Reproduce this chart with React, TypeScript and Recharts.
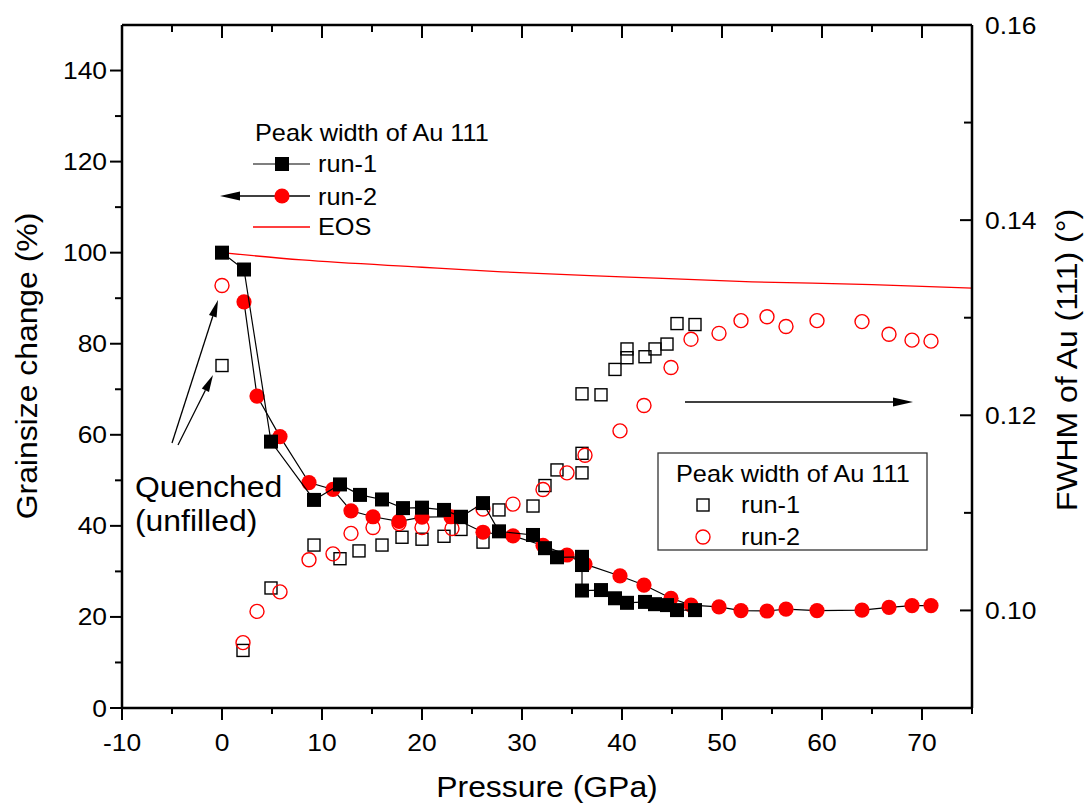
import { ComposedChart, Line, Scatter, XAxis, YAxis } from "recharts";

// pressure (GPa) and grain size change (%) — filled markers, left axis
const run1P = [0, 2.2, 4.9, 9.2, 11.8, 13.8, 16.0, 18.1, 20.0, 22.2, 23.9, 26.1, 27.7, 31.1, 32.3, 33.5, 36.0, 36.0, 36.0, 37.9, 39.3, 40.5, 42.3, 43.3, 44.5, 45.5, 47.3];
const run1Grain = [100, 96.3, 58.5, 45.7, 49.1, 46.8, 45.8, 43.9, 44.0, 43.5, 42.0, 45.0, 38.8, 38.0, 35.1, 33.1, 33.2, 31.4, 25.8, 25.9, 24.1, 23.1, 23.3, 22.8, 22.6, 21.5, 21.5];

const run2P = [2.2, 3.5, 5.8, 8.7, 11.1, 12.9, 15.1, 17.7, 20.0, 22.9, 26.1, 29.1, 32.1, 34.5, 36.3, 39.8, 42.2, 44.9, 46.9, 49.7, 51.9, 54.5, 56.4, 59.5, 64.0, 66.7, 69.0, 70.9];
const run2Grain = [89.2, 68.5, 59.6, 49.5, 48.0, 43.3, 42.0, 41.0, 41.9, 42.0, 38.6, 37.8, 35.7, 33.6, 31.6, 29.0, 27.0, 24.1, 22.6, 22.2, 21.4, 21.3, 21.7, 21.4, 21.5, 22.1, 22.5, 22.5];

// FWHM of Au (111) — open markers, right axis (first point = quenched)
const run1OpenP = [0, 2.1, 4.9, 9.2, 11.8, 13.7, 16.0, 18.0, 20.0, 22.2, 23.9, 26.1, 27.7, 31.1, 32.3, 33.5, 36.0, 36.0, 36.0, 37.9, 39.3, 40.5, 40.5, 42.3, 43.3, 44.5, 45.5, 47.3];
const run1Fwhm = [0.1251, 0.0959, 0.1023, 0.1067, 0.1053, 0.1061, 0.1067, 0.1075, 0.1073, 0.1076, 0.1083, 0.107, 0.1103, 0.1107, 0.1128, 0.1144, 0.1141, 0.1161, 0.1222, 0.1221, 0.1247, 0.1259, 0.1268, 0.126, 0.1268, 0.1273, 0.1294, 0.1293];

const run2OpenP = [0, 2.1, 3.5, 5.8, 8.7, 11.1, 12.9, 15.1, 17.7, 20.0, 23.0, 26.1, 29.1, 32.1, 34.5, 36.3, 39.8, 42.2, 44.9, 46.9, 49.7, 51.9, 54.5, 56.4, 59.5, 64.0, 66.7, 69.0, 70.9];
const run2Fwhm = [0.1333, 0.0967, 0.0999, 0.1019, 0.1052, 0.1058, 0.1079, 0.1085, 0.1089, 0.1085, 0.1084, 0.1104, 0.1109, 0.1124, 0.1141, 0.1159, 0.1184, 0.121, 0.1249, 0.1278, 0.1284, 0.1297, 0.1301, 0.1291, 0.1297, 0.1296, 0.1283, 0.1277, 0.1276];

const eosP = [0, 8, 20, 28, 40, 53, 65, 75];
const eosGrain = [100, 98.4, 96.8, 95.8, 94.7, 93.6, 93.0, 92.2];

const xTicks = [-10, -5, 0, 5, 10, 15, 20, 25, 30, 35, 40, 45, 50, 55, 60, 65, 70, 75];
const leftTicks = [0, 10, 20, 30, 40, 50, 60, 70, 80, 90, 100, 110, 120, 130, 140];
const rightTicks = [0.09, 0.1, 0.11, 0.12, 0.13, 0.14, 0.15, 0.16];

const run1Data = run1P.map((p, i) => ({ p, g: run1Grain[i] }));
const run2Data = run2P.map((p, i) => ({ p, g: run2Grain[i] }));
const run1OpenData = run1OpenP.map((p, i) => ({ p, w: run1Fwhm[i] }));
const run2OpenData = run2OpenP.map((p, i) => ({ p, w: run2Fwhm[i] }));
const eosData = eosP.map((p, i) => ({ p, g: eosGrain[i] }));

const FONT = '"Liberation Sans", Arial, Helvetica, sans-serif';
const RED = "#ff0000";

function SText({ x, y, size, anchor = "start", rotate = 0, children }: any) {
  const t = `translate(${x},${y})${rotate ? ` rotate(${rotate})` : ""} scale(1.1,1)`;
  return (
    <text transform={t} fontSize={size} fontFamily={FONT} textAnchor={anchor} fill="#000">
      {children}
    </text>
  );
}

function Arrow({ x1, y1, x2, y2, head = 18, half = 4.5 }: any) {
  const dx = x2 - x1;
  const dy = y2 - y1;
  const len = Math.hypot(dx, dy);
  const ux = dx / len;
  const uy = dy / len;
  const bx = x2 - ux * head;
  const by = y2 - uy * head;
  const pts = `${x2},${y2} ${bx - uy * half},${by + ux * half} ${bx + uy * half},${by - ux * half}`;
  return (
    <g>
      <line x1={x1} y1={y1} x2={bx} y2={by} stroke="#000" strokeWidth={1.3} />
      <polygon points={pts} fill="#000" />
    </g>
  );
}

function BottomTick({ x, y, payload }: any) {
  const v = payload.value;
  const major = v % 10 === 0;
  return (
    <g>
      <line x1={x} y1={y} x2={x} y2={y + (major ? 12 : 6)} stroke="#000" strokeWidth={2} />
      {major && (
        <SText x={x} y={y + 43} size={24} anchor="middle">
          {v}
        </SText>
      )}
    </g>
  );
}

function TopTick({ x, y, payload }: any) {
  const major = payload.value % 10 === 0;
  return <line x1={x} y1={y} x2={x} y2={y + (major ? 13 : 7)} stroke="#000" strokeWidth={2} />;
}

function LeftTick({ x, y, payload }: any) {
  const v = payload.value;
  const major = v % 20 === 0;
  return (
    <g>
      <line x1={x} y1={y} x2={x - (major ? 12 : 7)} y2={y} stroke="#000" strokeWidth={2} />
      {major && (
        <SText x={x - 15} y={y + 8.5} size={24} anchor="end">
          {v}
        </SText>
      )}
    </g>
  );
}

function RightTick({ x, y, payload }: any) {
  const v = payload.value;
  const k = Math.round(v * 100);
  const major = k % 2 === 0 && k >= 10;
  return (
    <g>
      <line x1={x} y1={y} x2={x - (major ? 12 : 8)} y2={y} stroke="#000" strokeWidth={2} />
      {major && (
        <SText x={x + 13} y={y + 8.5} size={24}>
          {v.toFixed(2)}
        </SText>
      )}
    </g>
  );
}

const filledSquare = (p: any) => <rect x={p.cx - 7} y={p.cy - 7} width={14} height={14} fill="#000" />;
const filledCircle = (p: any) => <circle cx={p.cx} cy={p.cy} r={7.6} fill={RED} />;
const openSquare = (p: any) => (
  <rect x={p.cx - 6} y={p.cy - 6} width={12} height={12} fill="none" stroke="#000" strokeWidth={1.4} />
);
const openCircle = (p: any) => <circle cx={p.cx} cy={p.cy} r={7} fill="none" stroke={RED} strokeWidth={1.4} />;

const axisLine = { stroke: "#000", strokeWidth: 2.5 };
const joinLine = { stroke: "#000", strokeWidth: 1.2 };

export default function App() {
  return (
    <div style={{ position: "absolute", left: 0, top: 0, width: 1086, height: 808, background: "#fff" }}>
      <ComposedChart width={1086} height={808} margin={{ top: 0, right: 0, bottom: 0, left: 0 }}>
        <XAxis xAxisId="b" dataKey="p" type="number" domain={[-10, 75]} allowDataOverflow ticks={xTicks}
          interval={0} height={100} axisLine={axisLine} tickLine={false} tickSize={0} tickMargin={0} tick={BottomTick} />
        <XAxis xAxisId="t" dataKey="p" type="number" orientation="top" domain={[-10, 75]} allowDataOverflow ticks={xTicks}
          interval={0} height={25} axisLine={axisLine} tickLine={false} tickSize={0} tickMargin={0} tick={TopTick} />
        <YAxis yAxisId="L" type="number" domain={[0, 150]} allowDataOverflow ticks={leftTicks} interval={0} width={122}
          axisLine={axisLine} tickLine={false} tickSize={0} tickMargin={0} tick={LeftTick} />
        <YAxis yAxisId="R" orientation="right" type="number" domain={[0.09, 0.16]} allowDataOverflow ticks={rightTicks}
          interval={0} width={114} axisLine={axisLine} tickLine={false} tickSize={0} tickMargin={0} tick={RightTick} />

        <Scatter xAxisId="b" yAxisId="R" data={run1OpenData} dataKey="w" shape={openSquare} isAnimationActive={false} />
        <Scatter xAxisId="b" yAxisId="R" data={run2OpenData} dataKey="w" shape={openCircle} isAnimationActive={false} />
        <Scatter xAxisId="b" yAxisId="L" data={run2Data} dataKey="g" line={joinLine} lineType="joint"
          shape={filledCircle} isAnimationActive={false} />
        <Scatter xAxisId="b" yAxisId="L" data={run1Data} dataKey="g" line={joinLine} lineType="joint"
          shape={filledSquare} isAnimationActive={false} />
        <Line xAxisId="b" yAxisId="L" data={eosData} dataKey="g" type="monotone" stroke={RED} strokeWidth={1.3}
          dot={false} activeDot={false} isAnimationActive={false} />
      </ComposedChart>

      <svg width={1086} height={808} style={{ position: "absolute", left: 0, top: 0, pointerEvents: "none" }}>
        {/* axis titles */}
        <SText x={547} y={797} size={29} anchor="middle">Pressure (GPa)</SText>
        <SText x={37} y={366} size={29} anchor="middle" rotate={-90}>Grainsize change (%)</SText>
        <SText x={1077} y={360} size={29} anchor="middle" rotate={-90}>FWHM of Au (111) (°)</SText>

        {/* legend for filled markers */}
        <SText x={255} y={141} size={23}>Peak width of Au 111</SText>
        <line x1={253} y1={164} x2={310} y2={164} stroke="#000" strokeWidth={1.2} />
        <rect x={275} y={157} width={14} height={14} fill="#000" />
        <SText x={318} y={172} size={23}>run-1</SText>
        <Arrow x1={310} y1={196} x2={220} y2={196} head={20} half={4.5} />
        <circle cx={282} cy={196} r={7.6} fill={RED} />
        <SText x={318} y={205} size={23}>run-2</SText>
        <line x1={253} y1={227} x2={310} y2={227} stroke={RED} strokeWidth={1.3} />
        <SText x={318} y={235} size={23}>EOS</SText>

        {/* legend for open markers */}
        <rect x={658} y={453} width={269} height={97} fill="#fff" stroke="#333" strokeWidth={1.3} />
        <SText x={676} y={482} size={23}>Peak width of Au 111</SText>
        <rect x={697} y={499} width={12} height={12} fill="none" stroke="#000" strokeWidth={1.4} />
        <SText x={741} y={513} size={23}>run-1</SText>
        <circle cx={703} cy={537} r={7} fill="none" stroke={RED} strokeWidth={1.4} />
        <SText x={741} y={545} size={23}>run-2</SText>

        {/* annotations */}
        <Arrow x1={685} y1={402} x2={913} y2={402} head={20} half={4.5} />
        <Arrow x1={172} y1={443} x2={218} y2={300} head={17} half={4} />
        <Arrow x1={178} y1={445} x2={213} y2={375} head={17} half={4} />
        <SText x={135} y={497} size={29}>Quenched</SText>
        <SText x={135} y={531} size={29}>(unfilled)</SText>
      </svg>
    </div>
  );
}
